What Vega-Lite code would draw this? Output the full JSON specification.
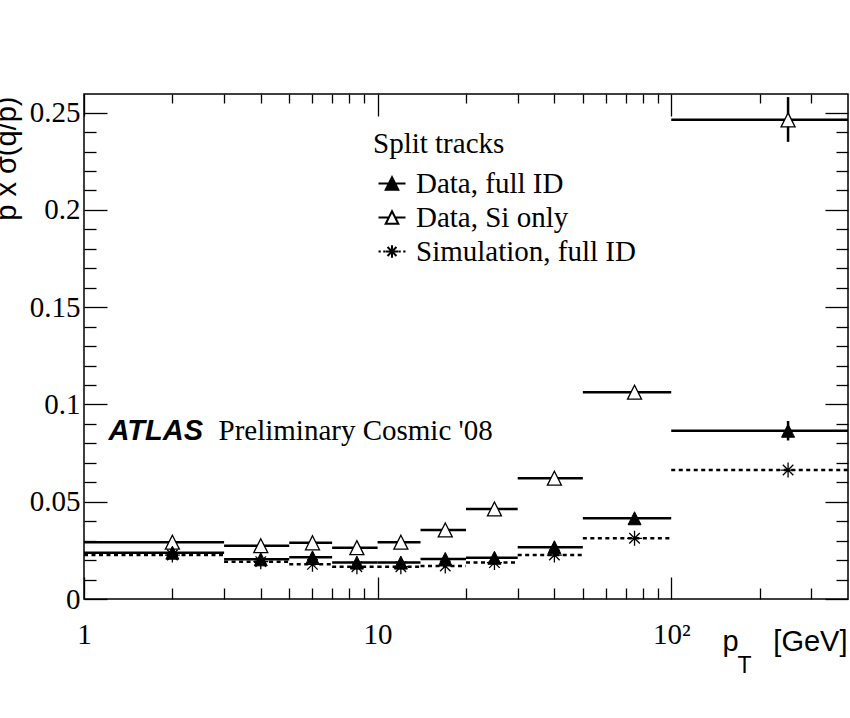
{
  "$schema": "https://vega.github.io/schema/vega-lite/v6.json",
  "autosize": {"type": "none"},
  "width": 764,
  "height": 505,
  "padding": {"left": 84, "top": 94, "right": 2, "bottom": 119},
  "background": "white",
  "config": {
    "view": {"stroke": "black", "strokeWidth": 1.5},
    "axis": {"domain": false, "grid": false, "tickColor": "black", "tickWidth": 1.3, "labelFont": "Liberation Serif", "labelFontSize": 29, "labelColor": "black", "titleColor": "black", "titleFontWeight": "normal", "labelFlush": false, "labelOverlap": false}
  },
  "data": {"values": [
    {"s": "Data, full ID", "lo": 1, "hi": 3, "x": 2, "y": 0.0238, "elo": null, "ehi": null},
    {"s": "Data, full ID", "lo": 3, "hi": 5, "x": 4, "y": 0.0204, "elo": null, "ehi": null},
    {"s": "Data, full ID", "lo": 5, "hi": 7, "x": 6, "y": 0.0214, "elo": null, "ehi": null},
    {"s": "Data, full ID", "lo": 7, "hi": 10, "x": 8.5, "y": 0.0187, "elo": null, "ehi": null},
    {"s": "Data, full ID", "lo": 10, "hi": 14, "x": 12, "y": 0.0187, "elo": null, "ehi": null},
    {"s": "Data, full ID", "lo": 14, "hi": 20, "x": 17, "y": 0.0206, "elo": null, "ehi": null},
    {"s": "Data, full ID", "lo": 20, "hi": 30, "x": 25, "y": 0.0212, "elo": null, "ehi": null},
    {"s": "Data, full ID", "lo": 30, "hi": 50, "x": 40, "y": 0.0266, "elo": null, "ehi": null},
    {"s": "Data, full ID", "lo": 50, "hi": 100, "x": 75, "y": 0.0415, "elo": null, "ehi": null},
    {"s": "Data, full ID", "lo": 100, "hi": 400, "x": 250, "y": 0.0865, "elo": 0.0815, "ehi": 0.0915},
    {"s": "Data, Si only", "lo": 1, "hi": 3, "x": 2, "y": 0.0292, "elo": null, "ehi": null},
    {"s": "Data, Si only", "lo": 3, "hi": 5, "x": 4, "y": 0.0274, "elo": null, "ehi": null},
    {"s": "Data, Si only", "lo": 5, "hi": 7, "x": 6, "y": 0.0289, "elo": null, "ehi": null},
    {"s": "Data, Si only", "lo": 7, "hi": 10, "x": 8.5, "y": 0.0264, "elo": null, "ehi": null},
    {"s": "Data, Si only", "lo": 10, "hi": 14, "x": 12, "y": 0.0292, "elo": null, "ehi": null},
    {"s": "Data, Si only", "lo": 14, "hi": 20, "x": 17, "y": 0.0355, "elo": null, "ehi": null},
    {"s": "Data, Si only", "lo": 20, "hi": 30, "x": 25, "y": 0.0463, "elo": null, "ehi": null},
    {"s": "Data, Si only", "lo": 30, "hi": 50, "x": 40, "y": 0.0621, "elo": null, "ehi": null},
    {"s": "Data, Si only", "lo": 50, "hi": 100, "x": 75, "y": 0.1063, "elo": null, "ehi": null},
    {"s": "Data, Si only", "lo": 100, "hi": 400, "x": 250, "y": 0.2463, "elo": 0.235, "ehi": 0.258},
    {"s": "Simulation, full ID", "lo": 1, "hi": 3, "x": 2, "y": 0.0226, "elo": null, "ehi": null},
    {"s": "Simulation, full ID", "lo": 3, "hi": 5, "x": 4, "y": 0.0192, "elo": null, "ehi": null},
    {"s": "Simulation, full ID", "lo": 5, "hi": 7, "x": 6, "y": 0.0178, "elo": null, "ehi": null},
    {"s": "Simulation, full ID", "lo": 7, "hi": 10, "x": 8.5, "y": 0.0166, "elo": null, "ehi": null},
    {"s": "Simulation, full ID", "lo": 10, "hi": 14, "x": 12, "y": 0.0166, "elo": null, "ehi": null},
    {"s": "Simulation, full ID", "lo": 14, "hi": 20, "x": 17, "y": 0.0170, "elo": null, "ehi": null},
    {"s": "Simulation, full ID", "lo": 20, "hi": 30, "x": 25, "y": 0.0187, "elo": null, "ehi": null},
    {"s": "Simulation, full ID", "lo": 30, "hi": 50, "x": 40, "y": 0.0226, "elo": null, "ehi": null},
    {"s": "Simulation, full ID", "lo": 50, "hi": 100, "x": 75, "y": 0.0312, "elo": null, "ehi": null},
    {"s": "Simulation, full ID", "lo": 100, "hi": 400, "x": 250, "y": 0.0663, "elo": null, "ehi": null}
  ]},
  "resolve": {"axis": {"x": "independent", "y": "independent"}},
  "layer": [
    {
      "transform": [{"filter": "datum.s != 'Simulation, full ID'"}],
      "mark": {"type": "rule", "color": "black", "strokeWidth": 2.5, "strokeCap": "butt"},
      "encoding": {
        "x": {"field": "lo", "type": "quantitative", "scale": {"type": "log", "domain": [1, 400], "nice": false},
          "axis": {"orient": "bottom", "values": [1, 10, 100], "tickSize": -22, "labelPadding": 43,
            "labelExpr": "datum.value == 100 ? '10²' : datum.value == 10 ? '10' : '1'",
            "title": "p", "titleX": 638, "titleY": 51, "titleAlign": "left", "titleBaseline": "alphabetic", "titleAngle": 0,
            "titleFont": "Liberation Sans", "titleFontSize": 29}},
        "x2": {"field": "hi"},
        "y": {"field": "y", "type": "quantitative", "scale": {"domain": [0, 0.2596], "nice": false, "zero": false},
          "axis": {"orient": "left", "values": [0, 0.05, 0.1, 0.15, 0.2, 0.25], "tickSize": -23, "labelPadding": 27, "format": "~g",
            "title": "p x σ(q/p)", "titleX": -69, "titleY": 2, "titleAngle": -90, "titleAlign": "right", "titleBaseline": "alphabetic",
            "titleFont": "Liberation Sans", "titleFontSize": 29}}
      }
    },
    {
      "transform": [{"filter": "datum.s == 'Simulation, full ID'"}],
      "mark": {"type": "rule", "color": "black", "strokeWidth": 2.5, "strokeDash": [4, 3.5], "strokeCap": "butt"},
      "encoding": {
        "x": {"field": "lo", "type": "quantitative", "scale": {"type": "log", "domain": [1, 400], "nice": false},
          "axis": {"orient": "bottom", "values": [2, 3, 4, 5, 6, 7, 8, 9, 20, 30, 40, 50, 60, 70, 80, 90, 200, 300], "tickSize": -11, "labels": false,
            "title": "[GeV]", "titleX": 763, "titleY": 51, "titleAlign": "right", "titleBaseline": "alphabetic", "titleAngle": 0,
            "titleFont": "Liberation Sans", "titleFontSize": 29}},
        "x2": {"field": "hi"},
        "y": {"field": "y", "type": "quantitative", "scale": {"domain": [0, 0.2596], "nice": false, "zero": false},
          "axis": {"orient": "left", "values": [0.01, 0.02, 0.03, 0.04, 0.06, 0.07, 0.08, 0.09, 0.11, 0.12, 0.13, 0.14, 0.16, 0.17, 0.18, 0.19, 0.21, 0.22, 0.23, 0.24], "tickSize": -12, "labels": false, "title": null}}
      }
    },
    {
      "transform": [{"filter": "datum.ehi != null"}],
      "mark": {"type": "rule", "color": "black", "strokeWidth": 2.5, "strokeCap": "butt"},
      "encoding": {
        "x": {"field": "x", "type": "quantitative", "scale": {"type": "log", "domain": [1, 400], "nice": false},
          "axis": {"orient": "top", "values": [1, 10, 100], "tickSize": -22, "labels": false,
            "title": "T", "titleX": 653, "titleY": 578, "titleAlign": "left", "titleBaseline": "alphabetic", "titleAngle": 0,
            "titleFont": "Liberation Sans", "titleFontSize": 23}},
        "y": {"field": "elo", "type": "quantitative", "scale": {"domain": [0, 0.2596], "nice": false, "zero": false},
          "axis": {"orient": "right", "values": [0, 0.05, 0.1, 0.15, 0.2, 0.25], "tickSize": -23, "labels": false,
            "title": "ATLAS", "titleX": -740, "titleY": 345, "titleAngle": 0, "titleAlign": "left", "titleBaseline": "alphabetic",
            "titleFont": "Liberation Sans", "titleFontStyle": "italic", "titleFontWeight": "bold", "titleFontSize": 29}},
        "y2": {"field": "ehi"}
      }
    },
    {
      "transform": [{"filter": "datum.s == 'Data, Si only'"}],
      "mark": {"type": "point", "shape": "M0,-1L1,1L-1,1Z", "size": 196, "filled": true, "fill": "white", "stroke": "black", "strokeWidth": 1.3, "opacity": 1},
      "encoding": {
        "x": {"field": "x", "type": "quantitative", "scale": {"type": "log", "domain": [1, 400], "nice": false},
          "axis": {"orient": "top", "values": [2, 3, 4, 5, 6, 7, 8, 9, 20, 30, 40, 50, 60, 70, 80, 90, 200, 300], "tickSize": -9, "labels": false, "title": null}},
        "y": {"field": "y", "type": "quantitative", "scale": {"domain": [0, 0.2596], "nice": false, "zero": false},
          "axis": {"orient": "right", "values": [0.01, 0.02, 0.03, 0.04, 0.06, 0.07, 0.08, 0.09, 0.11, 0.12, 0.13, 0.14, 0.16, 0.17, 0.18, 0.19, 0.21, 0.22, 0.23, 0.24], "tickSize": -12, "labels": false,
            "title": "Preliminary Cosmic '08", "titleX": -630, "titleY": 345, "titleAngle": 0, "titleAlign": "left", "titleBaseline": "alphabetic",
            "titleFont": "Liberation Serif", "titleFontSize": 29}}
      }
    },
    {
      "transform": [{"filter": "datum.s == 'Data, full ID'"}],
      "mark": {"type": "point", "shape": "M0,-1L1,1L-1,1Z", "size": 169, "filled": true, "fill": "black", "stroke": "black", "strokeWidth": 1, "opacity": 1},
      "encoding": {
        "x": {"field": "x", "type": "quantitative", "scale": {"type": "log", "domain": [1, 400], "nice": false}, "axis": null},
        "y": {"field": "y", "type": "quantitative", "scale": {"domain": [0, 0.2596], "nice": false, "zero": false}, "axis": null}
      }
    },
    {
      "transform": [{"filter": "datum.s == 'Simulation, full ID'"}],
      "mark": {"type": "point", "shape": "M0,-1V1M-1,0H1M-0.7,-0.7L0.7,0.7M-0.7,0.7L0.7,-0.7", "size": 225, "filled": false, "stroke": "black", "strokeWidth": 1.3, "opacity": 1},
      "encoding": {
        "x": {"field": "x", "type": "quantitative", "scale": {"type": "log", "domain": [1, 400], "nice": false}, "axis": null},
        "y": {"field": "y", "type": "quantitative", "scale": {"domain": [0, 0.2596], "nice": false, "zero": false}, "axis": null}
      }
    },
    {
      "transform": [{"filter": "false"}],
      "mark": {"type": "point", "filled": false, "color": "black", "strokeWidth": 2, "opacity": 1},
      "encoding": {
        "shape": {"field": "s", "type": "nominal",
          "scale": {"domain": ["Data, full ID", "Data, Si only", "Simulation, full ID"],
            "range": [
              "M-1.93,0H1.93M0,-0.9L0.9,0.9L-0.9,0.9ZM0,-0.6L0.675,0.75L-0.675,0.75ZM0,-0.3L0.45,0.6L-0.45,0.6ZM0,0L0.225,0.45L-0.225,0.45Z",
              "M-1.93,0H-0.45M0.45,0H1.93M0,-0.9L0.9,0.9L-0.9,0.9Z",
              "M-1.93,0H-1.6M-1.25,0H-0.95M0.95,0H1.25M1.6,0H1.93M0,-0.9V0.9M-0.9,0H0.9M-0.64,-0.64L0.64,0.64M-0.64,0.64L0.64,-0.64"]},
          "legend": {"title": "Split tracks", "orient": "none", "legendX": 289, "legendY": 36, "padding": 0,
            "titleFont": "Liberation Serif", "titleFontSize": 29, "titleFontWeight": "normal", "titleColor": "black", "titlePadding": 10,
            "labelFont": "Liberation Serif", "labelFontSize": 29, "labelColor": "black", "labelOffset": 9.5, "labelLimit": 400,
            "symbolSize": 196, "symbolOffset": 4.5, "symbolStrokeColor": "black", "symbolStrokeWidth": 2, "symbolFillColor": "transparent", "rowPadding": 4}}
      }
    }
  ]
}
